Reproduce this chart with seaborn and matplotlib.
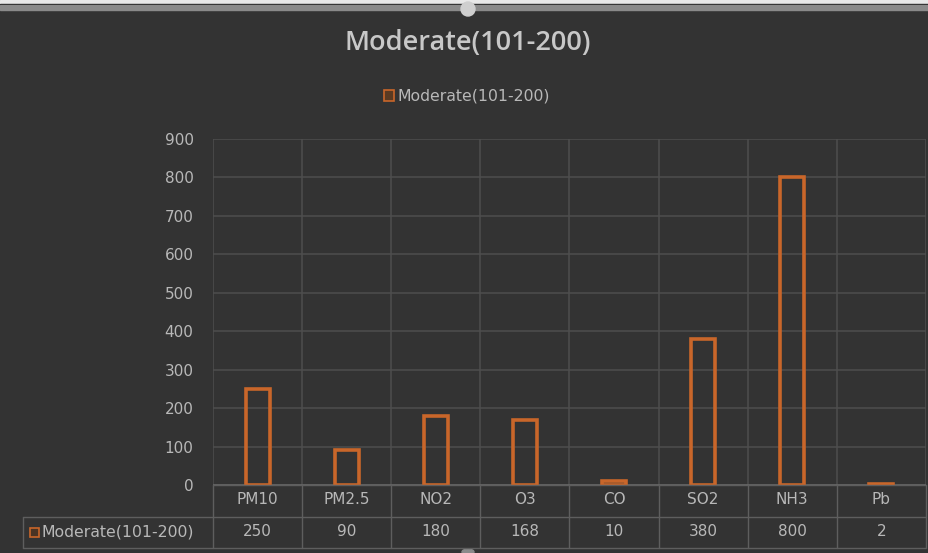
import matplotlib
matplotlib.use("Agg")
import matplotlib.pyplot as plt
import matplotlib.patches as mpatches
import seaborn as sns
import pandas as pd

series_name = "Moderate(101-200)"
pollutants = ["PM10", "PM2.5", "NO2", "O3", "CO", "SO2", "NH3", "Pb"]
limits = [250, 90, 180, 168, 10, 380, 800, 2]
y_ticks = [0, 100, 200, 300, 400, 500, 600, 700, 800, 900]

bg = "#333333"
grid_col = "#4e4e4e"
text_col = "#b8b8b8"
bar_col = "#c9662a"
small_font = ["DejaVu Sans"]

sns.set_theme(style="dark")
plt.rcParams["font.family"] = ["Open Sans", "DejaVu Sans"]

W, H = 929, 553
fig = plt.figure(figsize=(W / 100, H / 100), dpi=100, facecolor=bg)

def fx(px):
    return px / W

def fy(py):
    return 1 - py / H

# Window frame strip along the top edge, with its resize handles
fig.patches.append(mpatches.Rectangle((0, fy(4)), 1, 4 / H, transform=fig.transFigure,
                                      color="#e8e8e8", zorder=0))
fig.patches.append(mpatches.Rectangle((0, fy(5)), 1, 1 / H, transform=fig.transFigure,
                                      color="#222222", zorder=0))
fig.patches.append(mpatches.Rectangle((0, fy(10)), 1, 5 / H, transform=fig.transFigure,
                                      color="#8a8a8a", zorder=0))
fig.patches.append(mpatches.Ellipse((fx(468), fy(9)), 14 / W, 14 / H, transform=fig.transFigure,
                                    color="#cfcfcf", zorder=1))
fig.patches.append(mpatches.Ellipse((fx(468), fy(552)), 12 / W, 6 / H, transform=fig.transFigure,
                                    color="#8a8a8a", zorder=1))

ax_left, ax_right, ax_top, ax_bottom = 213, 926, 139, 485
ax = fig.add_axes([fx(ax_left), fy(ax_bottom), fx(ax_right - ax_left), (ax_bottom - ax_top) / H])
ax.set_facecolor(bg)

df = pd.DataFrame({"pollutant": pollutants, "limit": limits})
sns.barplot(data=df, x="pollutant", y="limit", ax=ax, width=0.27, fill=False,
            color=bar_col, linewidth=2.6, zorder=3)
for p in ax.patches:
    p.set_edgecolor(bar_col)
    p.set_facecolor("none")

n = len(pollutants)
ax.set_xlim(-0.5, n - 0.5)
ax.set_ylim(0, 900)
ax.set_yticks(y_ticks)
ax.set_yticklabels([str(t) for t in y_ticks], color=text_col, fontsize=11,
                   family=small_font)
ax.tick_params(axis="y", length=0, pad=14)
ax.set_xticks([])
ax.set_xlabel("")
ax.set_ylabel("")
for s in ax.spines.values():
    s.set_visible(False)

# Grid: horizontal at ticks, vertical at category boundaries
for t in y_ticks[1:]:
    ax.axhline(t, color=grid_col, lw=1.1, zorder=1)
for i in range(n + 1):
    ax.axvline(i - 0.5, color=grid_col, lw=1.1, zorder=1)
ax.axhline(0, color="#6a6a6a", lw=1.2, zorder=2)

# Data table under the plot
row1_top, row1_bot, row2_bot = 485, 517, 548
tbl_left = 23
line_kw = dict(color="#5e5e5e", lw=1.0, transform=fig.transFigure)
fig.add_artist(plt.Line2D([fx(ax_left), fx(ax_right)], [fy(row1_top)] * 2, **line_kw))
fig.add_artist(plt.Line2D([fx(tbl_left), fx(ax_right)], [fy(row1_bot)] * 2, **line_kw))
fig.add_artist(plt.Line2D([fx(tbl_left), fx(ax_right)], [fy(row2_bot)] * 2, **line_kw))
fig.add_artist(plt.Line2D([fx(tbl_left)] * 2, [fy(row1_bot), fy(row2_bot)], **line_kw))
col_w = (ax_right - ax_left) / n
for i in range(n + 1):
    xx = fx(ax_left + i * col_w)
    fig.add_artist(plt.Line2D([xx, xx], [fy(row1_top), fy(row2_bot)], **line_kw))

for i, (name, val) in enumerate(zip(pollutants, limits)):
    cx = fx(ax_left + (i + 0.5) * col_w)
    fig.text(cx, fy(500), name, ha="center", va="center",
             color=text_col, fontsize=11, family=small_font)
    fig.text(cx, fy(532), str(val), ha="center", va="center",
             color=text_col, fontsize=11, family=small_font)

# Series key in the table's first column
fig.patches.append(mpatches.Rectangle((fx(30), fy(537)), 9 / W, 9 / H, transform=fig.transFigure,
                                      facecolor="#4a3424", edgecolor=bar_col, lw=1.2))
fig.text(fx(42), fy(532), series_name, ha="left", va="center",
         color=text_col, fontsize=11.3, family=small_font)

# Title and legend
fig.text(fx(468), fy(43), series_name, ha="center", va="center", color="#c8c8c8",
         fontsize=19.5, fontweight="semibold")
fig.patches.append(mpatches.Rectangle((fx(384), fy(101)), 10 / W, 11 / H, transform=fig.transFigure,
                                      facecolor="#5a3a22", edgecolor=bar_col, lw=1.2))
fig.text(fx(398), fy(96), series_name, ha="left", va="center", color=text_col,
         fontsize=11.3, family=small_font)

fig.savefig("out.png", dpi=100, facecolor=bg)
